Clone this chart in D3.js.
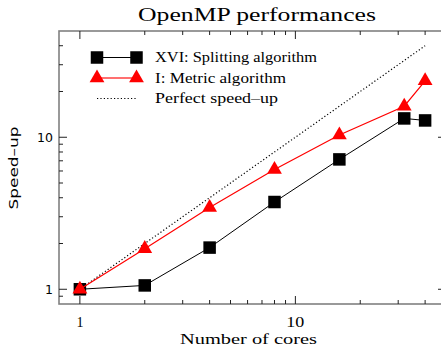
<!DOCTYPE html>
<html>
<head>
<meta charset="utf-8">
<script src="https://cdn.jsdelivr.net/npm/d3@7"></script>
<style>
  html, body { margin: 0; padding: 0; background: #fff; }
  svg { display: block; }
  text { fill: #000; }
  .serif { font-family: "Liberation Serif", "DejaVu Serif", serif; }
  .sans { font-family: "DejaVu Sans", "Liberation Sans", sans-serif; }
</style>
</head>
<body>
<svg id="chart" width="441" height="348"></svg>
<script>
// Core counts and measured speed-ups
const cores = [1, 2, 4, 8, 16, 32, 40];
const splittingSpeedup = [1.0, 1.06, 1.88, 3.75, 7.15, 13.3, 12.9];
const metricSpeedup = [1.0, 1.85, 3.45, 6.14, 10.35, 16.0, 23.5];
const perfectCores = [1, 40];
const perfectSpeedup = [1, 40];

const majorTicks = [1, 10];
const minorTicks = [0.9, 2, 3, 4, 5, 6, 7, 8, 9, 20, 30, 40];
const titleText = "OpenMP performances";
const xLabel = "Number of cores";
const yLabel = "Speed\u2013up";
const legendNames = ["XVI: Splitting algorithm", "I: Metric algorithm", "Perfect speed\u2013up"];

const svg = d3.select("#chart");
const plotLeft = 59, plotRight = 446, plotTop = 31, plotBottom = 304;

const x = d3.scaleLog().domain([0.8, 50]).range([plotLeft, plotRight]);
const y = d3.scaleLog().domain([0.8, 50]).range([plotBottom, plotTop]);

function fitText(sel, w) {
  sel.attr("textLength", w).attr("lengthAdjust", "spacingAndGlyphs");
}

// Frame with inward-pointing ticks on all four sides
const frame = svg.append("g");
const axisColor = "#808080";
frame.append("rect")
  .attr("x", plotLeft).attr("y", plotTop)
  .attr("width", plotRight - plotLeft).attr("height", plotBottom - plotTop)
  .attr("fill", "none").attr("stroke", axisColor).attr("stroke-width", 1.6);

const tickColor = "#222";
function xTicks(vals, len) {
  vals.forEach(v => {
    frame.append("line").attr("x1", x(v)).attr("x2", x(v))
      .attr("y1", plotBottom).attr("y2", plotBottom - len)
      .attr("stroke", tickColor).attr("stroke-width", 1);
    frame.append("line").attr("x1", x(v)).attr("x2", x(v))
      .attr("y1", plotTop).attr("y2", plotTop + len)
      .attr("stroke", tickColor).attr("stroke-width", 1);
  });
}
function yTicks(vals, len) {
  vals.forEach(v => {
    frame.append("line").attr("y1", y(v)).attr("y2", y(v))
      .attr("x1", plotLeft).attr("x2", plotLeft + len)
      .attr("stroke", tickColor).attr("stroke-width", 1);
    frame.append("line").attr("y1", y(v)).attr("y2", y(v))
      .attr("x1", plotRight).attr("x2", plotRight - len)
      .attr("stroke", tickColor).attr("stroke-width", 1);
  });
}
xTicks(majorTicks, 8);
xTicks(minorTicks.filter(v => v >= 1), 4);
yTicks(majorTicks, 8);
yTicks(minorTicks, 4);

// Tick labels
svg.append("g").selectAll("text").data(majorTicks).join("text")
  .attr("class", "serif")
  .attr("x", d => x(d)).attr("y", 327)
  .attr("text-anchor", "middle").attr("font-size", 14)
  .text(d => d).each(function (d) {
    d3.select(this).call(fitText, d < 10 ? 7 : 18);
  });
svg.append("g").selectAll("text").data(majorTicks).join("text")
  .attr("class", "sans")
  .attr("x", 53).attr("y", d => y(d) + 4.5)
  .attr("text-anchor", "end").attr("font-size", 12.5)
  .text(d => d);

// Title and axis labels
svg.append("text").attr("class", "serif")
  .attr("x", 257).attr("y", 20.5)
  .attr("text-anchor", "middle").attr("font-size", 18)
  .text(titleText).call(fitText, 238);
svg.append("text").attr("class", "serif")
  .attr("x", 248.5).attr("y", 344)
  .attr("text-anchor", "middle").attr("font-size", 15.5)
  .text(xLabel).call(fitText, 137);
svg.append("text").attr("class", "sans")
  .attr("transform", "translate(18,168) rotate(-90)")
  .attr("text-anchor", "middle").attr("font-size", 13)
  .text(yLabel).call(fitText, 83);

const plot = svg.append("g");

// Perfect speed-up reference
const perfect = perfectCores.map((c, i) => [c, perfectSpeedup[i]]);
plot.append("path")
  .attr("d", d3.line().x(d => x(d[0])).y(d => y(d[1]))(perfect))
  .attr("fill", "none").attr("stroke", "#000").attr("stroke-width", 1.2)
  .attr("stroke-dasharray", "1.2,2.2");

// Splitting algorithm
const split = cores.map((c, i) => [c, splittingSpeedup[i]]);
plot.append("path")
  .attr("d", d3.line().x(d => x(d[0])).y(d => y(d[1]))(split))
  .attr("fill", "none").attr("stroke", "#000").attr("stroke-width", 1);
const sq = 12.5;
plot.append("g").selectAll("rect").data(split).join("rect")
  .attr("x", d => x(d[0]) - sq / 2).attr("y", d => y(d[1]) - sq / 2)
  .attr("width", sq).attr("height", sq).attr("fill", "#000");

// Metric algorithm
const metric = cores.map((c, i) => [c, metricSpeedup[i]]);
plot.append("path")
  .attr("d", d3.line().x(d => x(d[0])).y(d => y(d[1]))(metric))
  .attr("fill", "none").attr("stroke", "#ff0000").attr("stroke-width", 1.2);
const tri = d3.symbol().type(d3.symbolTriangle).size(95);
plot.append("g").selectAll("path").data(metric).join("path")
  .attr("transform", d => `translate(${x(d[0])},${y(d[1])})`)
  .attr("d", tri).attr("fill", "#ff0000");

// Legend
const legend = svg.append("g");
const lx1 = 97, lx2 = 136.5, ltx = 155;
const rows = [57.5, 78, 98.5];
legend.append("line").attr("x1", lx1).attr("x2", lx2).attr("y1", rows[0]).attr("y2", rows[0])
  .attr("stroke", "#000").attr("stroke-width", 1.2);
[lx1, lx2].forEach(px => legend.append("rect")
  .attr("x", px - sq / 2).attr("y", rows[0] - sq / 2)
  .attr("width", sq).attr("height", sq).attr("fill", "#000"));
legend.append("line").attr("x1", lx1).attr("x2", lx2).attr("y1", rows[1]).attr("y2", rows[1])
  .attr("stroke", "#ff7070").attr("stroke-width", 2);
[lx1, lx2].forEach(px => legend.append("path")
  .attr("transform", `translate(${px},${rows[1]})`)
  .attr("d", tri).attr("fill", "#ff0000"));
legend.append("line").attr("x1", lx1).attr("x2", lx2).attr("y1", rows[2]).attr("y2", rows[2])
  .attr("stroke", "#000").attr("stroke-width", 1.2).attr("stroke-dasharray", "1.2,2.2");
const legendWidths = [162, 131, 123];
legendNames.forEach((name, i) => {
  legend.append("text").attr("class", "serif")
    .attr("x", ltx).attr("y", rows[i] + 4.5)
    .attr("font-size", 14).text(name).call(fitText, legendWidths[i]);
});
</script>
</body>
</html>
